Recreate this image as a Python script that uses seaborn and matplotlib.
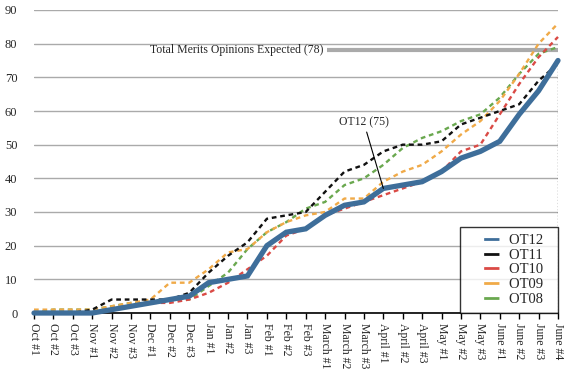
import numpy as np
import matplotlib
matplotlib.use("Agg")
import matplotlib.pyplot as plt
from matplotlib.lines import Line2D
import seaborn as sns

weeks = ["Oct #1", "Oct #2", "Oct #3", "Nov #1", "Nov #2", "Nov #3",
         "Dec #1", "Dec #2", "Dec #3", "Jan #1", "Jan #2", "Jan #3",
         "Feb #1", "Feb #2", "Feb #3", "March #1", "March #2", "March #3",
         "April #1", "April #2", "April #3", "May #1", "May #2", "May #3",
         "June #1", "June #2", "June #3", "June #4"]

ot12 = [0, 0, 0, 0, 1, 2, 3, 4, 5, 9, 10, 11, 20, 24, 25, 29, 32, 33, 37, 38, 39, 42, 46, 48, 51, 59, 66, 75]
ot11 = [0, 0, 0, 1, 4, 4, 4, 4, 6, 12, 17, 21, 28, 29, 30, 36, 42, 44, 48, 50, 50, 51, 56, 58, 60, 62, 69, 74]
ot10 = [0, 0, 0, 0, 1, 2, 3, 3, 4, 6, 9, 13, 17, 23, 25, 29, 31, 33, 35, 37, 39, 42, 48, 50, 59, 68, 76, 82]
ot09 = [1, 1, 1, 1, 2, 3, 4, 9, 9, 13, 18, 19, 24, 27, 29, 30, 34, 34, 39, 42, 44, 48, 53, 57, 63, 71, 80, 86]
ot08 = [0, 1, 1, 1, 2, 3, 3, 4, 4, 8, 12, 19, 24, 27, 31, 33, 38, 40, 44, 49, 52, 54, 57, 59, 64, 71, 77, 79]
expected_total = 78

terms = ["OT12", "OT11", "OT10", "OT09", "OT08"]
colors = {"OT12": "#3e6e9a", "OT11": "#111111", "OT10": "#da4a45",
          "OT09": "#f0aa48", "OT08": "#6aa84f"}
values = {"OT12": ot12, "OT11": ot11, "OT10": ot10, "OT09": ot09, "OT08": ot08}

sns.set_style("white")
serif = ['Liberation Serif', 'DejaVu Serif']
plt.rcParams['font.family'] = serif

fig = plt.figure(figsize=(5.8, 3.9), dpi=100)
ax = fig.add_axes([34 / 580, 77 / 390, 524 / 580, 303 / 390])

x = np.arange(len(weeks))

# dashed older terms first, current term on top
for term in ["OT08", "OT09", "OT10", "OT11"]:
    sns.lineplot(x=x, y=values[term], color=colors[term], lw=1.7,
                 linestyle=(0, (2, 1.6)), ax=ax, zorder=3, clip_on=False)
sns.lineplot(x=x, y=ot12, color=colors["OT12"], lw=3.8, ax=ax, zorder=4,
             clip_on=False, solid_joinstyle="miter")

# expected total reference line
ax.hlines(expected_total, 15.1, len(weeks) - 1, color="#aaaaaa", lw=3, zorder=2)
ax.text(14.9, expected_total, "Total Merits Opinions Expected (78)",
        ha="right", va="center", fontsize=8.5, family=serif)

ax.vlines(len(weeks) - 1, 0, ot12[-1], color="black", lw=0.9, linestyles=(0, (1, 1.5)), zorder=2)

ax.annotate("OT12 (75)", xy=(18, ot12[18]), xytext=(17, 56.5),
            ha="center", va="center", fontsize=8.5, family=serif,
            arrowprops=dict(arrowstyle="-", color="black", lw=0.8, shrinkA=0, shrinkB=0),
            zorder=5)

ax.set_xlim(0, len(weeks) - 1)
ax.set_ylim(0, 90)
ax.set_yticks(range(0, 91, 10))
ax.set_xticks(x)
ax.set_xticklabels(weeks, rotation=270, fontsize=8.5, family=serif)
ax.set_yticklabels([str(v) for v in range(0, 91, 10)], fontsize=9, family=serif)
ax.tick_params(axis="y", length=0, pad=12)
ax.tick_params(axis="x", direction="out", length=4, width=1, color="black", pad=3, bottom=True)
ax.yaxis.grid(True, color="#aaaaaa", lw=1)
ax.xaxis.grid(False)
for side in ["left", "right", "top"]:
    ax.spines[side].set_visible(False)
ax.spines["bottom"].set_color("black")
ax.spines["bottom"].set_linewidth(1.2)
ax.set_xlabel("")
ax.set_ylabel("")

# legend keys: short solid line set back from the frame's left edge
handles = [Line2D([0], [0], color=colors[t], lw=2, linestyle=(5.5, (5.5, 6)))
           for t in terms]
labels = [t + "\u2002" for t in terms]
leg = ax.legend(handles, labels, loc="lower right", prop={"family": serif, "size": 10.5},
                frameon=True, fancybox=False, borderaxespad=0, handlelength=2.2,
                labelspacing=0.1, borderpad=0.5, handletextpad=0.7)
leg.get_frame().set_edgecolor("black")
leg.get_frame().set_linewidth(1)
leg.set_zorder(6)

fig.savefig("out.png", dpi=100)
